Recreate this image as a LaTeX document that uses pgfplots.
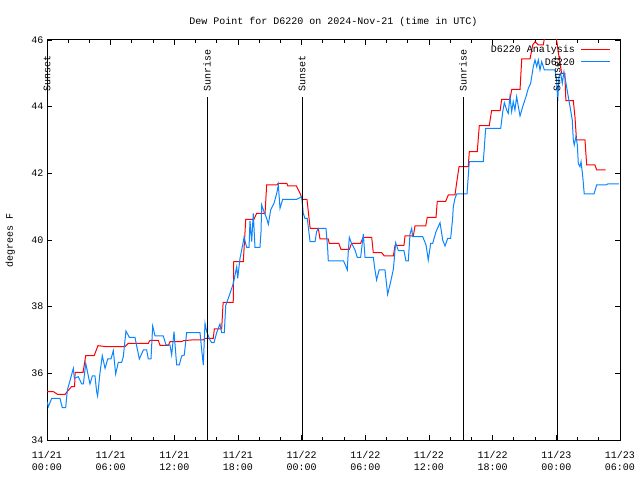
\documentclass[border=0pt]{standalone}
\usepackage{fontspec}
\setmainfont{Liberation Mono}
\usepackage{pgfplots}
\pgfplotsset{compat=1.18}

\definecolor{anared}{RGB}{255,0,0}
\definecolor{obsblue}{RGB}{10,132,255}

\begin{document}
\begin{tikzpicture}[font=\fontsize{10bp}{12bp}\selectfont]
  \useasboundingbox (-47bp,-40bp) rectangle (593bp,440bp);
  \begin{axis}[
      scale only axis,
      width=573bp, height=400bp,
      xmin=0, xmax=54, ymin=34, ymax=46,
      xtick={0,6,...,54},
      xticklabels={{11/21\\00:00},{11/21\\06:00},{11/21\\12:00},{11/21\\18:00},{11/22\\00:00},{11/22\\06:00},{11/22\\12:00},{11/22\\18:00},{11/23\\00:00},{11/23\\06:00}},
      xticklabel style={align=center, yshift=-8bp},
      minor x tick num=2,
      ytick={34,36,...,46},
      /pgf/number format/assume math mode=true,
      major tick length=5bp, minor tick length=3bp,
      tick style={black, line width=0.8bp},
      axis line style={line width=1bp},
      title={Dew Point for D6220 on 2024-Nov-21 (time in UTC)},
      title style={at={(axis description cs:0.5,1.03)}, anchor=center},
      ylabel={degrees F},
      ylabel style={at={(axis description cs:-0.064,0.5)}, anchor=center},
      clip mode=individual,
    ]

    % analysis
    \addplot[anared, line width=1bp] coordinates {
      (0,35.45) (0.6,35.45) (1.0,35.37) (1.7,35.37) (2.3,35.6) (2.6,35.6) (2.65,36.03) (3.4,36.03)
      (3.65,36.53) (4.45,36.53) (4.8,36.83) (5.6,36.8) (7.35,36.8) (7.66,36.9) (9.55,36.9) (9.7,36.99)
      (10.49,36.99) (10.65,36.84) (11.43,36.84) (11.6,36.95) (12.7,36.95) (12.85,36.98) (13.6,37.0)
      (14.73,37.0) (14.9,37.05) (15.67,37.05) (15.77,37.33) (16.46,37.33) (16.6,38.13) (17.55,38.13)
      (17.6,39.35) (18.5,39.35) (18.73,40.62) (19.5,40.62) (19.76,40.8) (20.55,40.8) (20.7,41.65)
      (21.65,41.65) (21.8,41.7) (22.6,41.7) (22.7,41.62) (23.5,41.62) (23.85,41.4) (24.06,41.22)
      (24.5,41.22) (24.8,40.35) (25.57,40.35) (25.73,40.03) (26.5,40.03) (26.6,39.9) (27.5,39.9)
      (27.7,39.72) (28.5,39.72) (28.7,39.9) (29.55,39.9) (29.8,40.08) (30.6,40.08) (30.75,39.62)
      (31.54,39.62) (31.79,39.52) (32.64,39.52) (32.8,39.84) (33.64,39.84) (33.74,40.12) (34.52,40.12)
      (34.68,40.42) (35.69,40.42) (35.84,40.68) (36.66,40.68) (36.78,41.16) (37.57,41.16) (37.82,41.35)
      (38.45,41.35) (38.6,41.7) (38.83,42.2) (39.7,42.2) (39.8,42.65) (40.55,42.65) (40.74,43.43)
      (41.68,43.43) (41.9,43.88) (42.7,43.88) (42.85,44.22) (43.63,44.22) (43.8,44.52) (44.58,44.52)
      (44.74,45.43) (45.52,45.43) (45.77,45.85) (46.0,45.95) (46.3,45.85) (46.77,45.85) (47.0,46.3)
      (47.9,46.3) (48.2,45.6) (48.35,45.3) (48.5,45.0) (48.8,45.0) (48.9,44.18) (49.6,44.18)
      (49.76,43.68) (49.9,43.0) (50.7,43.0) (50.86,42.25) (51.64,42.25) (51.8,42.1) (52.65,42.1)
    };

    % observations
    \addplot[obsblue, line width=1bp] coordinates {
      (0,35.15) (0.13,35.0) (0.44,35.25) (1.22,35.25) (1.44,34.97) (1.76,34.97) (1.92,35.5) (2.23,35.85)
      (2.48,36.15) (2.58,35.85) (2.95,35.9) (3.27,35.68) (3.43,35.68) (3.65,36.3) (4.05,35.68) (4.27,35.92)
      (4.52,35.92) (4.68,35.45) (4.77,35.32) (4.99,36.0) (5.21,36.53) (5.47,36.15) (5.72,36.43) (6.03,36.43)
      (6.25,36.68) (6.47,35.98) (6.72,36.33) (7.04,36.33) (7.19,36.5) (7.44,37.27) (7.76,37.08) (8.29,37.08)
      (8.7,36.43) (9.08,36.7) (9.39,36.7) (9.55,36.43) (9.8,36.43) (9.96,37.42) (10.18,37.12) (10.96,37.12)
      (11.21,36.85) (11.59,36.85) (11.75,36.55) (11.97,37.25) (12.22,36.25) (12.47,36.25) (12.69,36.52)
      (12.94,36.55) (13.16,37.22) (14.42,37.22) (14.58,36.7) (14.73,36.25) (14.89,37.5) (15.05,37.25)
      (15.36,37.0) (15.52,36.92) (15.74,36.92) (15.99,37.22) (16.3,37.48) (16.46,37.22) (16.71,37.22)
      (16.84,38.03) (17.25,38.4) (17.56,38.7) (17.88,39.2) (17.97,38.85) (18.19,39.45) (18.44,39.85)
      (18.57,40.08) (18.82,39.78) (19.04,39.78) (19.13,40.57) (19.29,39.95) (19.44,40.8) (19.6,39.78)
      (20.07,39.78) (20.17,40.25) (20.23,41.05) (20.45,40.85) (20.7,40.65) (20.86,40.47) (21.08,40.9)
      (21.39,41.1) (21.65,41.4) (21.8,41.65) (21.96,40.95) (22.21,41.22) (23.53,41.22) (24.0,41.3)
      (24.15,40.8) (24.31,40.65) (24.53,40.65) (24.79,39.95) (25.26,39.95) (25.41,40.25) (25.57,40.35)
      (26.29,40.35) (26.45,39.75) (26.51,39.37) (27.95,39.37) (28.18,39.2) (28.3,39.1) (28.4,39.7)
      (28.49,40.08) (28.7,39.9) (29.03,39.7) (29.24,39.48) (29.56,39.48) (29.81,40.18) (29.97,39.48)
      (30.75,39.48) (30.9,39.12) (31.06,38.8) (31.3,39.1) (31.85,39.1) (31.95,38.82) (32.1,38.37)
      (32.39,38.75) (32.64,39.12) (32.86,39.92) (33.11,39.68) (33.64,39.68) (33.83,39.37) (34.05,39.37)
      (34.21,40.18) (34.37,40.35) (34.46,40.1) (35.41,40.1) (35.72,39.85) (35.93,39.4) (36.16,39.9)
      (36.35,39.9) (36.66,40.25) (37.04,40.52) (37.29,40.0) (37.51,39.82) (37.76,40.05) (38.04,40.05)
      (38.23,40.65) (38.29,41.0) (38.45,41.25) (38.61,41.38) (39.58,41.38) (39.8,42.35) (41.12,42.35)
      (41.34,43.35) (42.76,43.35) (42.95,43.85) (43.1,44.12) (43.32,43.9) (43.47,43.8) (43.63,44.3)
      (43.79,43.85) (43.94,44.15) (44.1,43.9) (44.26,44.3) (44.42,44.0) (44.58,43.72) (44.83,44.0)
      (45.14,44.3) (45.36,44.55) (45.58,44.7) (45.83,45.2) (45.99,45.4) (46.15,45.2) (46.3,45.4)
      (46.46,45.1) (46.62,45.35) (46.87,45.1) (47.87,45.1) (48.03,44.8) (48.13,44.15) (48.25,44.9)
      (48.41,45.0) (48.56,44.7) (48.72,45.05) (48.91,44.7) (49.07,44.4) (49.29,44.0) (49.5,43.6)
      (49.6,43.0) (49.69,42.85) (49.85,43.1) (49.98,42.85) (50.07,42.3) (50.23,42.2) (50.33,42.35)
      (50.49,41.9) (50.63,41.38) (51.55,41.38) (51.8,41.65) (52.68,41.65) (52.84,41.68) (53.9,41.68)
    };

    % day/night markers
    \draw[black, line width=0.8bp] (axis cs:15.08,34) -- (axis cs:15.08,44.3);
    \draw[black, line width=0.8bp] (axis cs:24.03,34) -- (axis cs:24.03,44.3);
    \draw[black, line width=0.8bp] (axis cs:39.2,34) -- (axis cs:39.2,44.3);
    \draw[black, line width=0.8bp] (axis cs:48.07,34) -- (axis cs:48.07,44.3);
    \node[rotate=90, anchor=west, inner sep=0pt] at (axis cs:0,44.45) {Sunset};
    \node[rotate=90, anchor=west, inner sep=0pt] at (axis cs:15.08,44.45) {Sunrise};
    \node[rotate=90, anchor=west, inner sep=0pt] at (axis cs:24.03,44.45) {Sunset};
    \node[rotate=90, anchor=west, inner sep=0pt] at (axis cs:39.2,44.45) {Sunrise};
    \node[rotate=90, anchor=west, inner sep=0pt] at (axis cs:48.07,44.45) {Sunset};

    % key (gnuplot style: text, then sample on the right)
    \node[anchor=east, inner sep=0pt] at (axis description cs:0.9215,0.975) {D6220 Analysis};
    \draw[anared, line width=1bp] (axis description cs:0.932,0.975) -- (axis description cs:0.9825,0.975);
    \node[anchor=east, inner sep=0pt] at (axis description cs:0.9215,0.945) {D6220};
    \draw[obsblue, line width=1bp] (axis description cs:0.932,0.945) -- (axis description cs:0.9825,0.945);
  \end{axis}
\end{tikzpicture}
\end{document}
